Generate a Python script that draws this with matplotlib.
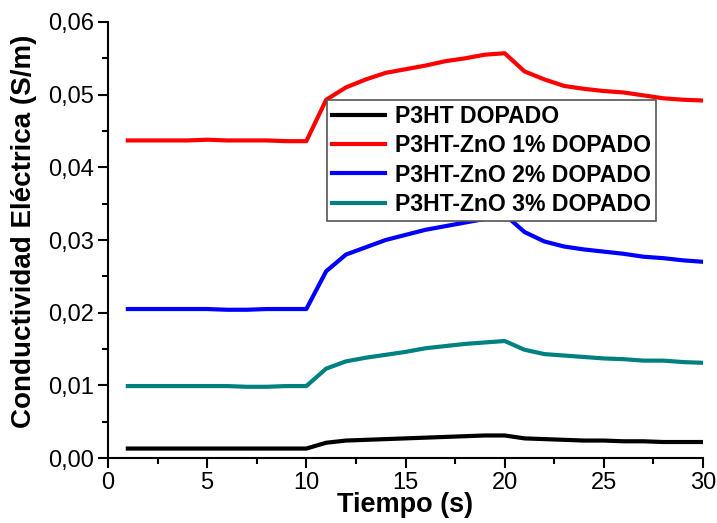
import numpy as np
import matplotlib.pyplot as plt
from matplotlib.ticker import MultipleLocator, FuncFormatter

# ---------------- datos ----------------
tiempo = list(range(1, 31))

p3ht = [0.0013, 0.0013, 0.0013, 0.0013, 0.0013, 0.0013, 0.0013, 0.0013, 0.0013, 0.0013,
        0.0021, 0.0024, 0.0025, 0.0026, 0.0027, 0.0028, 0.0029, 0.0030, 0.0031, 0.0031,
        0.0027, 0.0026, 0.0025, 0.0024, 0.0024, 0.0023, 0.0023, 0.0022, 0.0022, 0.0022]

zno_1 = [0.0437, 0.0437, 0.0437, 0.0437, 0.0438, 0.0437, 0.0437, 0.0437, 0.0436, 0.0436,
         0.0493, 0.0510, 0.0521, 0.0530, 0.0535, 0.0540, 0.0546, 0.0550, 0.0555, 0.0557,
         0.0532, 0.0521, 0.0512, 0.0508, 0.0505, 0.0503, 0.0499, 0.0495, 0.0493, 0.0492]

zno_2 = [0.0205, 0.0205, 0.0205, 0.0205, 0.0205, 0.0204, 0.0204, 0.0205, 0.0205, 0.0205,
         0.0257, 0.0280, 0.0290, 0.0300, 0.0307, 0.0314, 0.0319, 0.0324, 0.0329, 0.0335,
         0.0311, 0.0298, 0.0291, 0.0287, 0.0284, 0.0281, 0.0277, 0.0275, 0.0272, 0.0270]

zno_3 = [0.0099, 0.0099, 0.0099, 0.0099, 0.0099, 0.0099, 0.0098, 0.0098, 0.0099, 0.0099,
         0.0123, 0.0133, 0.0138, 0.0142, 0.0146, 0.0151, 0.0154, 0.0157, 0.0159, 0.0161,
         0.0149, 0.0143, 0.0141, 0.0139, 0.0137, 0.0136, 0.0134, 0.0134, 0.0132, 0.0131]

series = [
    (p3ht, "P3HT DOPADO", "black"),
    (zno_1, "P3HT-ZnO 1% DOPADO", "red"),
    (zno_2, "P3HT-ZnO 2% DOPADO", "blue"),
    (zno_3, "P3HT-ZnO 3% DOPADO", "#008080"),
]

plt.rcParams['font.family'] = ['Liberation Sans', 'DejaVu Sans']

fig = plt.figure(figsize=(7.17, 5.23), dpi=100)
ax = fig.add_axes([108 / 717, 1 - 458 / 523, 595 / 717, 436 / 523])

for vals, nombre, color in series:
    ax.plot(tiempo, vals, color=color, linewidth=3, label=nombre)

ax.set_xlim(0, 30)
ax.set_ylim(0, 0.06)
ax.xaxis.set_major_locator(MultipleLocator(5))
ax.xaxis.set_minor_locator(MultipleLocator(2.5))
ax.yaxis.set_major_locator(MultipleLocator(0.01))
ax.yaxis.set_minor_locator(MultipleLocator(0.005))
ax.yaxis.set_major_formatter(FuncFormatter(lambda v, p: f"{v:.2f}".replace(".", ",")))

ax.spines['top'].set_visible(False)
ax.spines['right'].set_visible(False)
for s in ['left', 'bottom']:
    ax.spines[s].set_linewidth(1.5)

ax.tick_params(which='major', direction='out', length=7, width=1.5, labelsize=17, pad=3)
ax.tick_params(which='minor', direction='out', length=4, width=1.5)

ax.set_xlabel('Tiempo (s)', fontsize=19.5, fontweight='bold', labelpad=-1)
ax.set_ylabel('Conductividad Eléctrica (S/m)', fontsize=20, fontweight='bold')
ax.yaxis.set_label_coords(-0.119, 0.52)

leg = ax.legend(loc='upper left', bbox_to_anchor=(219 / 595, 1 - 78 / 436),
                prop={'weight': 'bold', 'size': 16.6}, frameon=True, fancybox=False,
                framealpha=1, handlelength=2.3, handletextpad=0.45, borderpad=0.2,
                labelspacing=0.28, borderaxespad=0)
leg.get_frame().set_edgecolor('#555555')
leg.get_frame().set_linewidth(1.2)

fig.savefig('out.png', dpi=100)
